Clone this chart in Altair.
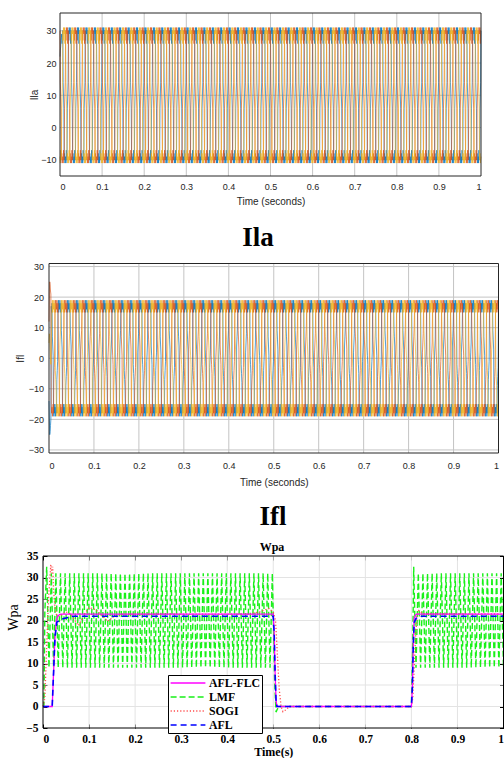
import altair as alt
import pandas as pd

# ---------------- values ----------------
X_TICKS = [0, 0.1, 0.2, 0.3, 0.4, 0.5, 0.6, 0.7, 0.8, 0.9, 1]
PHASES = ["A", "B", "C"]
PHASE_COLORS = ["#0072BD", "#D95319", "#EDB120"]

N_CYCLES = 50            # 50 Hz over 1 s
SAMPLES_PER_CYCLE = 24
PERIOD_S = 0.02

# Ila : one period of the phase current (24 samples)
ILA_Y_DOMAIN = [-15, 35.5]
ILA_Y_TICKS = [-10, 0, 10, 20, 30]
ILA_CYCLE = [30, 27, 31, 30, 29, 31, 26, 30, 30, 14, 10, 6,
             -10, -8, -11, -10, -9, -11, -7, -10, -10, 6, 10, 14]
ILA_SHIFT = [0, 8, 16]                    # samples between phases (120 deg)
ILA_START = {"A": [22, 24, 25, 27, 28, 29]}   # start-up samples

# Ifl : plateaus and the slowly drifting mid-level dwell
IFL_Y_DOMAIN = [-31, 31]
IFL_Y_TICKS = [-30, -20, -10, 0, 10, 20, 30]
IFL_HI = [17, 19, 15, 18, 16, 19, 17, 15, 18]
IFL_LO = [-17, -19, -15, -18, -16, -19, -17, -15, -18]
IFL_DWELL = 3
IFL_MID = [4, 6, 7, 6, 3, 0, -3, -6, -7, -5, -2, 1, 4, 6, 7, 6, 3, 0, -3, -6,
           -7, -5, -2, 1, 4, 6, 7, 6, 3, 0, -3, -6, -7, -5, -2, 1, 4, 6, 7, 6,
           3, 0, -3, -6, -7, -5, -2, 1, 4, 6]
IFL_SHIFT = [0, 8, 16]
IFL_MID_SHIFT = [0, 4, 7]
IFL_START = {"A": [-14, -20, -25, -24, -22, -20],
             "B": [12, 22, 25, 24, 22, 21],
             "C": [5, 8, 6, 3, 0, -2]}

# Wpa
WPA_Y_DOMAIN = [-5, 35]
WPA_Y_TICKS = [-5, 0, 5, 10, 15, 20, 25, 30, 35]
SERIES = ["AFL-FLC", "LMF", "SOGI", "AFL"]
SERIES_COLORS = ["#FF00FF", "#19F019", "#FF4D4D", "#0000FF"]
SERIES_DASH = [[1, 0], [6, 3], [1.2, 2], [6, 4]]
DRAW_ORDER = ["LMF", "SOGI", "AFL-FLC", "AFL"]
SERIES_WIDTH = {"LMF": 1.4, "SOGI": 1.3, "AFL-FLC": 1.3, "AFL": 1.6}

AFLFLC_T = [0, 0.02, 0.023, 0.026, 0.029, 0.032, 0.036, 0.04, 0.5, 0.502, 0.504, 0.506, 0.508,
            0.8, 0.802, 0.804, 0.806, 0.809, 0.812, 1.0]
AFLFLC_V = [0, 0, 8, 16, 20, 21, 21.4, 21.5, 21.5, 17, 8, 1.5, 0,
            0, 4, 14, 20.5, 21.3, 21.5, 21.5]
AFL_T = [0, 0.02, 0.023, 0.026, 0.03, 0.04, 0.05, 0.065, 0.5, 0.502, 0.504, 0.506, 0.508,
         0.8, 0.802, 0.804, 0.806, 0.81, 0.82, 1.0]
AFL_V = [0, 0, 8, 16, 19.6, 20.3, 20.6, 21, 21, 17, 8, 1.5, 0,
         0, 4, 14, 19.5, 20.5, 21, 21]
SOGI_T = [0, 0.004, 0.008, 0.012, 0.015, 0.017, 0.019, 0.021, 0.023, 0.026, 0.03, 0.04, 0.05,
          0.06, 0.077, 0.09, 0.1, 0.115, 0.13, 0.14, 0.155, 0.17, 0.45, 0.47, 0.49, 0.5, 0.505,
          0.509, 0.513, 0.517, 0.521, 0.527, 0.535, 0.8, 0.803, 0.806, 0.809, 0.812, 0.816,
          0.825, 1.0]
SOGI_V = [0, 2, 14, 25, 30, 33, 31, 32.5, 27, 23, 21, 21.3, 22,
          21.5, 18.8, 21.5, 23, 22.5, 21, 19.8, 21, 21.5, 21.5, 22, 22.8, 22, 20,
          12, 4, 0, -1.2, -0.8, 0, 0, 2, 9, 16, 21, 22.3,
          21.6, 21.5]
LMF_LEVELS = [31, 9]                       # ripple peak / trough
LMF_HALF_STEP = 0.005
LMF_WINDOWS = [(0.008, 0.498), (0.805, 1.0)]
LMF_FIRST_PEAK = 32.5
LMF_LEAD_T = [0, 0.002, 0.004]
LMF_LEAD_V = [0, 0, 22]
LMF_GAP_T = [0.503, 0.506, 0.509, 0.513, 0.8, 0.803]
LMF_GAP_V = [6, -1.3, -0.6, 0, 0, 15]

# ---------------- layout (pixels) ----------------
W, H = 504, 758
P1 = {"x": [60, 481], "y": [176, 13]}
P2 = {"x": [49, 498.5], "y": [453, 263.5]}
P3 = {"x": [43, 503.5], "y": [728, 556]}


# ---------------- tables built from the arrays ----------------
def phase_table(value_of, shifts, start):
    out = {}
    n_total = N_CYCLES * SAMPLES_PER_CYCLE
    dt = PERIOD_S / SAMPLES_PER_CYCLE
    for pi, (p, s) in enumerate(zip(PHASES, shifts)):
        first = start.get(p, [])
        rows = []
        for n in range(n_total + 1):
            c, k = divmod(n + s, SAMPLES_PER_CYCLE)
            v = first[n] if n < len(first) else value_of(pi, c % N_CYCLES, k)
            rows.append({"t": n * dt, "v": v})
        out[p] = pd.DataFrame(rows)
    return out


def ila_value(pi, c, k):
    return ILA_CYCLE[k]


def ifl_value(pi, c, k):
    m = IFL_MID[(c + IFL_MID_SHIFT[pi]) % N_CYCLES]
    if k < 9:
        return IFL_HI[k]
    if k < 12:
        return m + IFL_DWELL * (10 - k)
    if k < 21:
        return IFL_LO[k - 12]
    return -m + IFL_DWELL * (k - 22)


ila = phase_table(ila_value, ILA_SHIFT, ILA_START)
ifl = phase_table(ifl_value, IFL_SHIFT, IFL_START)

lmf = list(zip(LMF_LEAD_T, LMF_LEAD_V))
for wi, (t0, t1) in enumerate(LMF_WINDOWS):
    j = 0
    t = t0
    while t <= t1 + 1e-9:
        v = LMF_FIRST_PEAK if j == 0 else LMF_LEVELS[j % 2]
        lmf.append((round(t, 4), v))
        j += 1
        t = t0 + j * LMF_HALF_STEP
    if wi == 0:
        lmf += list(zip(LMF_GAP_T, LMF_GAP_V))
wpa = {
    "AFL-FLC": pd.DataFrame({"t": AFLFLC_T, "v": AFLFLC_V}),
    "AFL": pd.DataFrame({"t": AFL_T, "v": AFL_V}),
    "SOGI": pd.DataFrame({"t": SOGI_T, "v": SOGI_V}),
    "LMF": pd.DataFrame({"t": [a for a, b in lmf], "v": [b for a, b in lmf]}),
}
for s in SERIES:
    wpa[s]["series"] = s

# ---------------- chart ----------------
SANS = "Liberation Sans"
SERIF = "Liberation Serif"
GRAY_TXT = "#262626"
one = pd.DataFrame({"a": [0]})


def scales(P, ydom):
    return (alt.Scale(domain=[0, 1], range=P["x"], nice=False, zero=False),
            alt.Scale(domain=ydom, range=P["y"], nice=False, zero=False))


def grid_layers(P, ydom, yticks, color):
    xs, ys = scales(P, ydom)
    gv = pd.DataFrame({"t": X_TICKS[1:-1], "lo": ydom[0], "hi": ydom[1]})
    gh = pd.DataFrame({"v": [v for v in yticks if ydom[0] < v < ydom[1]], "lo": 0, "hi": 1})
    return [
        alt.Chart(gv).mark_rule(color=color, strokeWidth=1).encode(
            x=alt.X("t:Q", scale=xs, axis=None), y=alt.Y("lo:Q", scale=ys, axis=None), y2="hi:Q"),
        alt.Chart(gh).mark_rule(color=color, strokeWidth=1).encode(
            y=alt.Y("v:Q", scale=ys, axis=None), x=alt.X("lo:Q", scale=xs, axis=None), x2="hi:Q"),
    ]


def frame_layer(P, ydom, color):
    xs, ys = scales(P, ydom)
    fr = pd.DataFrame({"x0": [0], "x1": [1], "y0": [ydom[0]], "y1": [ydom[1]]})
    return alt.Chart(fr).mark_rect(fill=None, stroke=color, strokeWidth=1).encode(
        x=alt.X("x0:Q", scale=xs, axis=None), x2="x1:Q",
        y=alt.Y("y0:Q", scale=ys, axis=None), y2="y1:Q")


def heading(text, x, y, size=27):
    return alt.Chart(one).mark_text(text=text, font=SERIF, fontSize=size, fontWeight="bold",
                                    align="center", baseline="alphabetic", color="black").encode(
        x=alt.value(x), y=alt.value(y))


def wave_layers(data, P, ydom, yticks, ytitle, ylab_pad, ytitle_off, xlab_pad, xtitle_off):
    xs, ys = scales(P, ydom)
    xaxis = alt.Axis(orient="bottom", offset=P["y"][0] - H, values=X_TICKS, format="~g",
                     grid=False, ticks=False, domain=False, labelFont=SANS, labelFontSize=9,
                     labelColor=GRAY_TXT, labelPadding=xlab_pad, title="Time (seconds)",
                     titleFont=SANS, titleFontSize=10, titleFontWeight="normal",
                     titleColor=GRAY_TXT, titleY=xtitle_off, titleBaseline="middle")
    yaxis = alt.Axis(orient="left", offset=-P["x"][0], values=yticks, grid=False, ticks=False,
                     domain=False, labelFont=SANS, labelFontSize=9, labelColor=GRAY_TXT,
                     labelPadding=ylab_pad, title=ytitle, titleFont=SANS, titleFontSize=10,
                     titleFontWeight="normal", titleColor=GRAY_TXT, titleX=ytitle_off,
                     titleBaseline="middle")
    out = []
    for i, (p, c) in enumerate(zip(PHASES, PHASE_COLORS)):
        out.append(alt.Chart(data[p]).mark_line(strokeWidth=0.8, color=c, opacity=0.85).encode(
            x=alt.X("t:Q", scale=xs, axis=xaxis if i == 0 else None),
            y=alt.Y("v:Q", scale=ys, axis=yaxis if i == 0 else None)))
    return out


layers = []
# panel 1 : Ila
layers += grid_layers(P1, ILA_Y_DOMAIN, ILA_Y_TICKS, "#C4C4C4")
layers += wave_layers(ila, P1, ILA_Y_DOMAIN, ILA_Y_TICKS, "Ila", 4, -26, 6, 25)
layers.append(frame_layer(P1, ILA_Y_DOMAIN, "#262626"))
# panel 2 : Ifl
layers.append(heading("Ila", 258, 246))
layers += grid_layers(P2, IFL_Y_DOMAIN, IFL_Y_TICKS, "#C4C4C4")
layers += wave_layers(ifl, P2, IFL_Y_DOMAIN, IFL_Y_TICKS, "Ifl", 5.5, -29, 8, 29)
layers.append(frame_layer(P2, IFL_Y_DOMAIN, "#262626"))
# panel 3 : Wpa
layers.append(heading("Ifl", 273, 525))
layers.append(heading("Wpa", 272, 551, size=12))
layers += grid_layers(P3, WPA_Y_DOMAIN, WPA_Y_TICKS, "#E3E3E3")
xs3, ys3 = scales(P3, WPA_Y_DOMAIN)
legend = alt.Legend(orient="none", legendX=168, legendY=675, title=None, fillColor="white",
                    strokeColor="black", padding=1, rowPadding=0, labelFont=SERIF,
                    labelFontWeight="bold", labelFontSize=11.8, labelColor="black",
                    symbolType="M-2.9,0H2.9", symbolSize=144, symbolStrokeWidth=1.5,
                    symbolOffset=12, labelOffset=14, cornerRadius=0)
color_enc = alt.Color("series:N", scale=alt.Scale(domain=SERIES, range=SERIES_COLORS), legend=legend)
dash_enc = alt.StrokeDash("series:N", scale=alt.Scale(domain=SERIES, range=SERIES_DASH), legend=legend)
x_axis3 = alt.Axis(orient="bottom", offset=P3["y"][0] - 4 - H, values=X_TICKS, format="~g",
                   grid=False, domain=False, ticks=True, tickSize=4, tickColor="black",
                   labelFont=SERIF, labelFontWeight="bold", labelFontSize=11.5, labelColor="black",
                   labelPadding=5, title="Time(s)", titleFont=SERIF, titleFontWeight="bold",
                   titleFontSize=12, titleColor="black", titleY=27, titleBaseline="middle")
y_axis3 = alt.Axis(orient="left", offset=-(P3["x"][0] + 4), values=WPA_Y_TICKS, grid=False,
                   domain=False, ticks=True, tickSize=4, tickColor="black", labelFont=SERIF,
                   labelFontWeight="bold", labelFontSize=11.5, labelColor="black", labelPadding=5,
                   title="Wpa", titleFont=SERIF, titleFontWeight="normal", titleFontSize=14,
                   titleColor="black", titleX=-34, titleY=617, titleBaseline="middle")
for i, s in enumerate(DRAW_ORDER):
    layers.append(
        alt.Chart(wpa[s]).mark_line(strokeWidth=SERIES_WIDTH[s]).encode(
            x=alt.X("t:Q", scale=xs3, axis=x_axis3 if i == 0 else None),
            y=alt.Y("v:Q", scale=ys3, axis=y_axis3 if i == 0 else None),
            color=color_enc, strokeDash=dash_enc))
layers.append(
    alt.Chart(wpa["AFL"]).mark_point(opacity=0).encode(
        x=alt.X("t:Q", scale=xs3, axis=alt.Axis(orient="top", offset=-(P3["y"][1] + 4),
                                                values=X_TICKS, labels=False, title=None,
                                                grid=False, domain=False, ticks=True, tickSize=4,
                                                tickColor="black")),
        y=alt.Y("v:Q", scale=ys3, axis=alt.Axis(orient="right", offset=P3["x"][1] - 4 - W,
                                                values=WPA_Y_TICKS, labels=False, title=None,
                                                grid=False, domain=False, ticks=True, tickSize=4,
                                                tickColor="black"))))
layers.append(frame_layer(P3, WPA_Y_DOMAIN, "black"))

chart = alt.layer(*layers).resolve_scale(x="independent", y="independent").resolve_axis(
    x="independent", y="independent"
).properties(width=W, height=H, padding=0, autosize=alt.AutoSizeParams(type="none")
             ).configure_view(strokeWidth=0)

chart.save("out.html", embed_options={"renderer": "svg", "actions": False})
